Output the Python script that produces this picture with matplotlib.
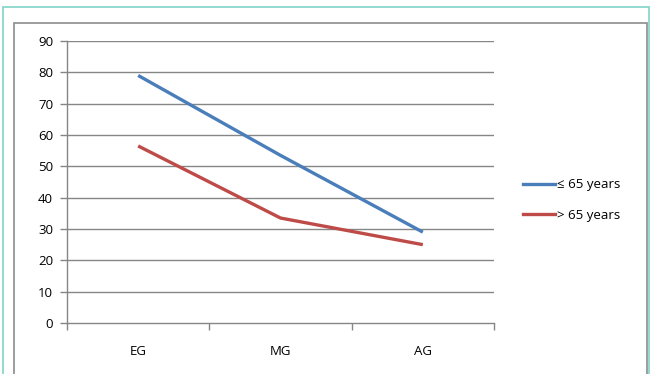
import matplotlib
matplotlib.use("Agg")
import matplotlib.pyplot as plt
from matplotlib.patches import Rectangle
from matplotlib.lines import Line2D

categories = ["EG", "MG", "AG"]
young = [79, 53.5, 29]
old = [56.5, 33.5, 25]
series_labels = ["≤ 65 years", "> 65 years"]
yticks = [0, 10, 20, 30, 40, 50, 60, 70, 80, 90]

W, H = 652, 374
fig = plt.figure(figsize=(W / 100, H / 100), dpi=100)
plt.rcParams["font.family"] = ["Open Sans", "DejaVu Sans"]

# outer chart frames
fig.patches.append(Rectangle((3 / W, -0.1), (646 / W), (H - 7) / H + 0.1,
                             transform=fig.transFigure, fill=False,
                             edgecolor="#7fd3c8", linewidth=1.2))
fig.patches.append(Rectangle((14 / W, -0.1), (633 / W), (H - 23) / H + 0.1,
                             transform=fig.transFigure, fill=False,
                             edgecolor="#8c8c8c", linewidth=1.2))

left, right = 67, 494
top, bottom = 41, 323
ax = fig.add_axes([left / W, 1 - bottom / H, (right - left) / W, (bottom - top) / H])

x = [0.5, 1.5, 2.5]
blue = "#4a7ebb"
red = "#be4b48"
ax.plot(x, young, color=blue, linewidth=2.4, solid_capstyle="butt")
ax.plot(x, old, color=red, linewidth=2.4, solid_capstyle="butt")

ax.set_xlim(0, 3)
ax.set_ylim(0, 90)
ax.set_yticks(yticks)
ax.set_yticklabels([str(v) for v in yticks], fontsize=9.5)
ax.set_xticks([0, 1, 2, 3])
ax.set_xticklabels([])
ax.set_xticks(x, minor=True)
ax.set_xticklabels(categories, minor=True, fontsize=9.5)
ax.tick_params(axis="x", which="minor", length=0, pad=16)
ax.tick_params(axis="x", which="major", length=5, color="#868686", width=1)
ax.tick_params(axis="y", length=5, color="#868686", width=1, pad=5)

for v in yticks[1:]:
    ax.axhline(v, color="#868686", linewidth=1, zorder=0)
for s in ["top", "right"]:
    ax.spines[s].set_visible(False)
for s in ["left", "bottom"]:
    ax.spines[s].set_color("#868686")
    ax.spines[s].set_linewidth(1)

handles = [Line2D([], [], color=blue, linewidth=2.4),
           Line2D([], [], color=red, linewidth=2.4)]
fig.legend(handles, series_labels, loc="center left",
           bbox_to_anchor=(511 / W, 1 - 200 / H), frameon=False,
           fontsize=9.5, handlelength=2.4, handletextpad=0.15,
           labelspacing=1.3)

fig.savefig("out.png", dpi=100)
